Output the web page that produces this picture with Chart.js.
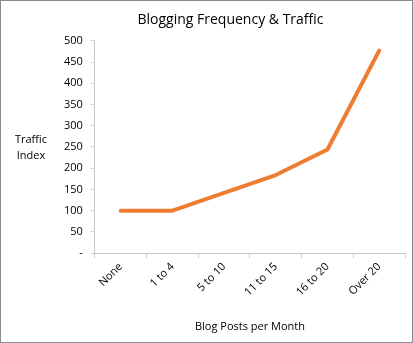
<!DOCTYPE html>
<html>
<head>
<meta charset="utf-8">
<script src="https://cdn.jsdelivr.net/npm/chart.js@4"></script>
<style>
  body { margin: 0; background: #fff; }
  #wrap {
    width: 413px; height: 343px; box-sizing: border-box;
    border: 1px solid #8a8a8a; background: #fff;
  }
  #wrap canvas { display: block; }
</style>
</head>
<body>
<div id="wrap"><canvas id="blogChart" width="411" height="341"></canvas></div>
<script>
// data
const categories = ["None", "1 to 4", "5 to 10", "11 to 15", "16 to 20", "Over 20"];
const trafficIndex = [100, 100, 142, 184, 244, 477];
const yTicks = [0, 50, 100, 150, 200, 250, 300, 350, 400, 450, 500];

const FONT = "'Open Sans', 'Liberation Sans', sans-serif";

// horizontal "Traffic Index" label left of the axis
const sideLabel = {
  id: "sideLabel",
  afterDraw(chart) {
    const ctx = chart.ctx;
    ctx.save();
    ctx.fillStyle = "#000";
    ctx.font = "11px " + FONT;
    ctx.textAlign = "center";
    ctx.textBaseline = "middle";
    ctx.fillText("Traffic", 30, 139);
    ctx.fillText("Index", 30, 155);
    ctx.restore();
  }
};

const ctx = document.getElementById("blogChart").getContext("2d");
new Chart(ctx, {
  type: "line",
  data: {
    labels: categories,
    datasets: [
      {
        label: "Traffic Index",
        data: trafficIndex,
        borderColor: "#ED7D31",
        borderWidth: 4,
        borderCapStyle: "round",
        borderJoinStyle: "round",
        pointRadius: 0,
        tension: 0,
        fill: false,
      },
    ],
  },
  plugins: [sideLabel],
  options: {
    responsive: false,
    animation: false,
    layout: { padding: { left: 55, right: 7, top: 7, bottom: 9 } },
    plugins: {
      legend: { display: false },
      tooltip: { enabled: false },
      title: {
        display: true,
        text: "Blogging Frequency & Traffic",
        color: "#000",
        font: { family: FONT, size: 14, weight: "normal" },
        padding: { top: 4, bottom: 12 },
      },
    },
    scales: {
      x: {
        offset: true,
        grid: {
          offset: true,
          drawOnChartArea: false,
          tickLength: 5,
          color: "#d0d0d0",
        },
        border: { color: "#c8c8c8" },
        ticks: {
          color: "#000",
          font: { family: FONT, size: 11 },
          minRotation: 45,
          maxRotation: 45,
          padding: 2,
        },
        title: {
          display: true,
          text: "Blog Posts per Month",
          color: "#000",
          font: { family: FONT, size: 11 },
          padding: { top: 19, bottom: 0 },
        },
      },
      y: {
        min: 0,
        max: 500,
        afterBuildTicks(axis) {
          axis.ticks = yTicks.map((v) => ({ value: v }));
        },
        grid: {
          drawOnChartArea: false,
          tickLength: 4,
          color: "#d0d0d0",
        },
        border: { color: "#c8c8c8" },
        ticks: {
          color: "#000",
          font: { family: FONT, size: 11 },
          padding: 8,
          callback: (v) => (v === 0 ? "-" : v),
        },
      },
    },
  },
});
</script>
</body>
</html>
